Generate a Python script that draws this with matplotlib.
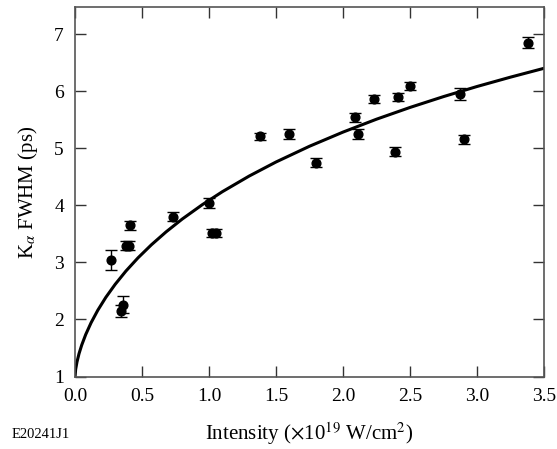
import matplotlib
matplotlib.use('Agg')
import matplotlib.pyplot as plt

plt.rcParams['font.family'] = ['Liberation Serif', 'DejaVu Serif']
plt.rcParams['mathtext.fontset'] = 'stix'

# measured points (intensity in 1e19 W/cm2, FWHM in ps, error)
intensity = [0.27, 0.34, 0.36, 0.38, 0.40, 0.41, 0.73, 1.00, 1.02, 1.05,
             1.38, 1.60, 1.80, 2.09, 2.11, 2.23, 2.39, 2.41, 2.50, 2.87,
             2.90, 3.38]
fwhm = [3.04, 2.15, 2.26, 3.29, 3.29, 3.65, 3.80, 4.04, 3.51, 3.51,
        5.21, 5.25, 4.75, 5.54, 5.25, 5.86, 4.94, 5.89, 6.09, 5.95,
        5.16, 6.85]
err = [0.17, 0.10, 0.15, 0.08, 0.08, 0.08, 0.08, 0.08, 0.07, 0.07,
       0.06, 0.08, 0.08, 0.08, 0.08, 0.07, 0.08, 0.07, 0.07, 0.10,
       0.08, 0.10]

# fit curve
fit_x = [0.0, 0.005, 0.015, 0.03, 0.05, 0.08, 0.12, 0.17, 0.23, 0.30,
         0.38, 0.47, 0.57, 0.68, 0.80, 0.95, 1.1, 1.3, 1.5, 1.75,
         2.0, 2.25, 2.5, 2.75, 3.0, 3.25, 3.5]
fit_y = [1.0, 1.127, 1.257, 1.400, 1.550, 1.736, 1.942, 2.161, 2.387, 2.616,
         2.848, 3.079, 3.308, 3.535, 3.759, 4.011, 4.239, 4.513, 4.759, 5.035,
         5.283, 5.509, 5.715, 5.905, 6.082, 6.246, 6.401]

fig = plt.figure(figsize=(5.57, 4.49), dpi=100)
ax = fig.add_axes([75/557., 1-376.5/449., 469/557., 369.2/449.])

ax.plot(fit_x, fit_y, color='k', linewidth=2.2, zorder=2)
ax.errorbar(intensity, fwhm, yerr=err, fmt='o', color='k', markersize=6.3,
            ecolor='k', elinewidth=1.0, capsize=4, capthick=1.0, zorder=3)

ax.set_xlim(0, 3.5)
ax.set_ylim(1, 7.47)
ax.set_xticks([0.0, 0.5, 1.0, 1.5, 2.0, 2.5, 3.0, 3.5])
ax.set_xticklabels(['0.0', '0.5', '1.0', '1.5', '2.0', '2.5', '3.0', '3.5'])
ax.set_yticks([1, 2, 3, 4, 5, 6, 7])

for s in ax.spines.values():
    s.set_color('#555555')
    s.set_linewidth(1.2)
ax.tick_params(direction='in', length=8, width=1.0, color='#333333',
               top=True, right=True, labelsize=14, pad=8)

ax.set_xlabel(r'Intensity ($\times$10$^{19}$ W/cm$^{2}$)', fontsize=15, labelpad=11)
ax.set_ylabel(r'K$_{\alpha}$ FWHM (ps)', fontsize=15, labelpad=10)
fig.text(12/557., 1-434/449., 'E20241J1', fontsize=10.5, va='center')

fig.savefig('out.png', dpi=100, facecolor='w')
plt.close(fig)
